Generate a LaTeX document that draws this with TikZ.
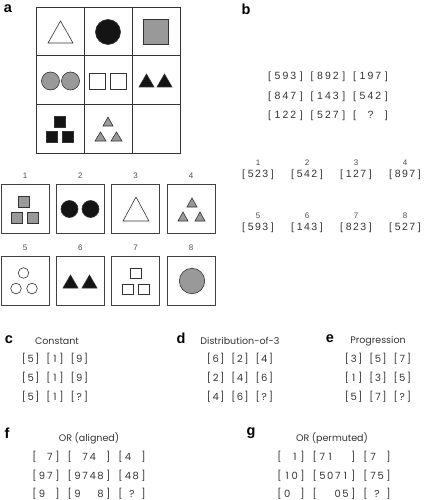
\documentclass[tikz,border=0pt]{standalone}
\usepackage{fontspec}
\setmainfont{Poppins}
\newfontfamily\hv{Liberation Sans}
\newfontfamily\pl{Poppins}
\makeatletter
\newdimen\slp
\newdimen\slg
\newcommand\slotrow[3]{\slp=#1\relax\slg=#2\relax\sl@loop#3\relax}
\def\sl@loop#1{\ifx#1\relax\else\sl@one#1\expandafter\sl@loop\fi}
\def\sl@one#1{\ifx#1.\hbox to \slp{}\else\ifx#1|\hskip\slg\relax\else\ifx#1Q\hbox to 2\slp{\hss?\hss}\else\hbox to \slp{\hss#1\hss}\fi\fi\fi}
\makeatother
\begin{document}
\begin{tikzpicture}[x=1pt,y=-1pt,
 panel/.style={font=\hv\bfseries\fontsize{14.5}{14.5}\selectfont, inner sep=0},
 head/.style={font=\pl\fontsize{9.5}{9.5}\selectfont, text=black!80, inner sep=0},
 num/.style={font=\hv\fontsize{8}{8}\selectfont, text=black!70, inner sep=0},
 brow/.style={font=\hv\fontsize{10.5}{10.5}\selectfont, text=black!80, inner sep=0},
 prow/.style={font=\pl\fontsize{10}{10}\selectfont, text=black!80, inner sep=0},
 gridline/.style={draw=black!80, line width=0.9pt},
 shp/.style={draw=black!80, line width=0.6pt},
 wht/.style={shp, fill=white},
 blk/.style={shp, fill=black!92},
 gry/.style={shp, fill=black!40},
 abox/.style={draw=black!75, line width=0.8pt, minimum width=48pt, minimum height=49pt, inner sep=0},
]
\useasboundingbox (0,0) rectangle (424,500);
% ---------- panel a ----------
\node[panel] (la) at (8,9) {a};
\draw[gridline] (36,7) rectangle (180,153);
\draw[gridline] (84,7) -- (84,153) (132,7) -- (132,153)
  (36,55.7) -- (180,55.7) (36,104.3) -- (180,104.3);
% row 1
\draw[wht] (48,43) -- (73,43) -- (60.5,21) -- cycle;
\draw[blk] (108,32) circle (12.5);
\draw[gry] (143.5,19.5) rectangle (168.5,44.5);
% row 2
\draw[gry] (50.5,81) circle (9);
\draw[gry] (70.5,81) circle (9);
\draw[wht] (89,73) rectangle (105,89);
\draw[wht] (110.5,73) rectangle (126.5,89);
\draw[blk] (139,87) -- (154,87) -- (146.5,74) -- cycle;
\draw[blk] (157,87) -- (172,87) -- (164.5,74) -- cycle;
% row 3
\draw[blk] (54,116) rectangle (65,127);
\draw[blk] (46,131.5) rectangle (57,142.5);
\draw[blk] (62,131.5) rectangle (73,142.5);
\draw[gry] (103,126) -- (113,126) -- (108,117) -- cycle;
\draw[gry] (95,141) -- (106,141) -- (100.5,132) -- cycle;
\draw[gry] (111,141) -- (122,141) -- (116.5,132) -- cycle;
% answer boxes
\node[abox] (box1) at (25,208.5) {};
\node[abox] (box2) at (80.3,208.5) {};
\node[abox] (box3) at (135.7,208.5) {};
\node[abox] (box4) at (191,208.5) {};
\node[abox] (box5) at (25,281) {};
\node[abox] (box6) at (80.3,281) {};
\node[abox] (box7) at (135.7,281) {};
\node[abox] (box8) at (191,281) {};
\node[num] (n1) at (25,176) {1};
\node[num] (n2) at (80.3,176) {2};
\node[num] (n3) at (135.7,176) {3};
\node[num] (n4) at (191,176) {4};
\node[num] (n5) at (25,247.5) {5};
\node[num] (n6) at (80.3,247.5) {6};
\node[num] (n7) at (135.7,247.5) {7};
\node[num] (n8) at (191,247.5) {8};
% box 1
\draw[gry] (18,196) rectangle (29,207);
\draw[gry] (11,212) rectangle (22,223);
\draw[gry] (27,212) rectangle (38,223);
% box 2
\draw[blk] (69.5,209) circle (8.5);
\draw[blk] (90.5,209) circle (8.5);
% box 3
\draw[wht] (123,221) -- (149,221) -- (136,197) -- cycle;
% box 4
\draw[gry] (187,207) -- (197,207) -- (192,198) -- cycle;
\draw[gry] (178,221) -- (188,221) -- (183,212) -- cycle;
\draw[gry] (195,221) -- (205,221) -- (200,212) -- cycle;
% box 5
\draw[wht] (23.5,273) circle (5.3);
\draw[wht] (16,288.5) circle (5.3);
\draw[wht] (32,288.5) circle (5.3);
% box 6
\draw[blk] (63,288) -- (78,288) -- (70.5,275) -- cycle;
\draw[blk] (82,288) -- (97,288) -- (89.5,275) -- cycle;
% box 7
\draw[wht] (130,268) rectangle (141,278.5);
\draw[wht] (122,284) rectangle (133,294.5);
\draw[wht] (138,284) rectangle (149,294.5);
% box 8
\draw[gry] (192,281) circle (12.7);
% ---------- panel b ----------
\node[panel] (lb) at (246,9) {b};
\node[brow] (b1) at (328,77) {\slotrow{7.9pt}{3pt}{[593]|[892]|[197]}};
\node[brow] (b2) at (328,96.5) {\slotrow{7.9pt}{3pt}{[847]|[143]|[542]}};
\node[brow] (b3) at (328,116) {\slotrow{7.9pt}{3pt}{[122]|[527]|[.?.]}};
\node[num] (o1n) at (258,163) {1};
\node[num] (o2n) at (307,163) {2};
\node[num] (o3n) at (356,163) {3};
\node[num] (o4n) at (405,163) {4};
\node[brow] (o1) at (258,175) {\slotrow{7.2pt}{0pt}{[523]}};
\node[brow] (o2) at (307,175) {\slotrow{7.2pt}{0pt}{[542]}};
\node[brow] (o3) at (356,175) {\slotrow{7.2pt}{0pt}{[127]}};
\node[brow] (o4) at (405,175) {\slotrow{7.2pt}{0pt}{[897]}};
\node[num] (o5n) at (258,215.5) {5};
\node[num] (o6n) at (307,215.5) {6};
\node[num] (o7n) at (356,215.5) {7};
\node[num] (o8n) at (405,215.5) {8};
\node[brow] (o5) at (258,227.5) {\slotrow{7.2pt}{0pt}{[593]}};
\node[brow] (o6) at (307,227.5) {\slotrow{7.2pt}{0pt}{[143]}};
\node[brow] (o7) at (356,227.5) {\slotrow{7.2pt}{0pt}{[823]}};
\node[brow] (o8) at (405,227.5) {\slotrow{7.2pt}{0pt}{[527]}};
% ---------- panel c ----------
\node[panel] (lc) at (9,340) {c};
\node[head] (hc) at (57,341) {Constant};
\node[prow] (c1) at (55,358.5) {\slotrow{6.6pt}{4.5pt}{[5]|[1]|[9]}};
\node[prow] (c2) at (55,377.5) {\slotrow{6.6pt}{4.5pt}{[5]|[1]|[9]}};
\node[prow] (c3) at (55,396.5) {\slotrow{6.6pt}{4.5pt}{[5]|[1]|[?]}};
% ---------- panel d ----------
\node[panel] (ld) at (181,338) {d};
\node[head] (hd) at (240,341) {Distribution-of-3};
\node[prow] (d1) at (240,359) {\slotrow{6.6pt}{4.5pt}{[6]|[2]|[4]}};
\node[prow] (d2) at (240,378) {\slotrow{6.6pt}{4.5pt}{[2]|[4]|[6]}};
\node[prow] (d3) at (240,397) {\slotrow{6.6pt}{4.5pt}{[4]|[6]|[?]}};
% ---------- panel e ----------
\node[panel] (le) at (330,339) {e};
\node[head] (he) at (378,341) {Progression};
\node[prow] (e1) at (378,359) {\slotrow{6.6pt}{4.5pt}{[3]|[5]|[7]}};
\node[prow] (e2) at (378,378) {\slotrow{6.6pt}{4.5pt}{[1]|[3]|[5]}};
\node[prow] (e3) at (378,397) {\slotrow{6.6pt}{4.5pt}{[5]|[7]|[?]}};
% ---------- panel f ----------
\node[panel] (lf) at (7,433) {f};
\node[head] (hf) at (89,438) {OR (aligned)};
\node[prow] (f1) at (89,457) {\slotrow{7.7pt}{4.5pt}{[.7]|[.74.]|[4.]}};
\node[prow] (f2) at (89,476) {\slotrow{7.7pt}{4.5pt}{[97]|[9748]|[48]}};
\node[prow] (f3) at (89,494) {\slotrow{7.7pt}{4.5pt}{[9.]|[9..8]|[Q]}};
% ---------- panel g ----------
\node[panel] (lg) at (251,433) {g};
\node[head] (hg) at (332,438) {OR (permuted)};
\node[prow] (g1) at (334,457) {\slotrow{7.7pt}{4.5pt}{[.1]|[71..]|[7.]}};
\node[prow] (g2) at (334,476) {\slotrow{7.7pt}{4.5pt}{[10]|[5071]|[75]}};
\node[prow] (g3) at (334,494) {\slotrow{7.7pt}{4.5pt}{[0.]|[..05]|[Q]}};
\end{tikzpicture}
\end{document}
